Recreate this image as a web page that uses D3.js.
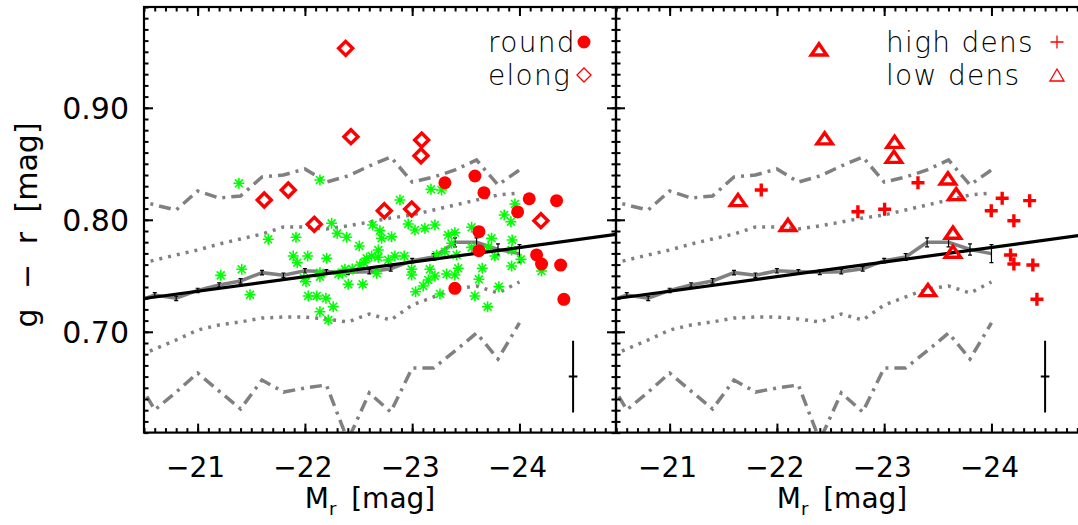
<!DOCTYPE html>
<html>
<head>
<meta charset="utf-8">
<script src="https://cdn.jsdelivr.net/npm/d3@7"></script>
<style>
  body { margin: 0; background: #fff; }
  svg { display: block; }
  text { font-family: "DejaVu Sans", sans-serif; fill: #000; }
</style>
</head>
<body>
<div id="chart"></div>
<script>
// bins of the median / percentile curves (Mr)
var binX = [-20.4, -20.6, -20.8, -21.0, -21.2, -21.4, -21.6, -21.8, -22.0, -22.2,
            -22.4, -22.6, -22.8, -23.0, -23.2, -23.4, -23.6, -23.8, -24.0]
var medY = [0.7257, 0.7329, 0.7299, 0.7369, 0.7418, 0.7454, 0.7528, 0.7505, 0.7545, 0.7536,
            0.7531, 0.7537, 0.7562, 0.7635, 0.7668, 0.7799, 0.7799, 0.7735, 0.7698]
var medErr = [0.002, 0.002, 0.002, 0.002, 0.002, 0.002, 0.002, 0.002, 0.002, 0.002,
              0.002, 0.002, 0.002, 0.002, 0.003, 0.004, 0.004, 0.005, 0.008]
var dotHi = [0.7587, 0.7641, 0.7686, 0.7730, 0.7784, 0.7829, 0.7873, 0.7936, 0.7936, 0.7918,
             0.7945, 0.7980, 0.8016, 0.8043, 0.8088, 0.8132, 0.8177, 0.8221, 0.8239]
var dotLo = [0.6766, 0.6846, 0.6927, 0.7016, 0.7061, 0.7088, 0.7123, 0.7132, 0.7132, 0.7114,
             0.7088, 0.7159, 0.7105, 0.7239, 0.7311, 0.7382, 0.7409, 0.7346, 0.7445]
var dashHi = [0.8195, 0.8132, 0.8088, 0.8257, 0.8195, 0.8213, 0.8382, 0.8400, 0.8454, 0.8337,
              0.8391, 0.8480, 0.8561, 0.8337, 0.8382, 0.8445, 0.8534, 0.8311, 0.8445]
var dashLo = [0.6632, 0.6302, 0.6462, 0.6632, 0.6471, 0.6311, 0.6570, 0.6462, 0.6498, 0.6525,
              0.6030, 0.6454, 0.6284, 0.6677, 0.6677, 0.6829, 0.6989, 0.6757, 0.7079]

// linear fit
var fitX = [-20.5, -24.9]
var fitY = [0.7297, 0.7870]

// typical error bar
var errPoint = [-24.5, 0.660]
var errSize = [0.04, 0.032]

// left panel samples
var roundPts = [[-23.305, 0.8331], [-23.585, 0.8391], [-23.669, 0.8242], [-24.091, 0.8188],
  [-24.346, 0.8171], [-23.983, 0.8070], [-23.622, 0.7894], [-23.622, 0.7724], [-24.160, 0.7686],
  [-24.206, 0.7605], [-24.384, 0.7596], [-23.398, 0.7388], [-24.414, 0.7290]]
var elongPts = [[-22.380, 0.9531], [-22.429, 0.8742], [-23.088, 0.8712], [-23.082, 0.8572],
  [-21.845, 0.8266], [-21.621, 0.8177], [-22.740, 0.8081], [-22.995, 0.8096], [-22.087, 0.7960],
  [-24.200, 0.7992]]
var greenPts = [[-21.385, 0.8326], [-22.140, 0.8355], [-22.249, 0.7969], [-22.301, 0.7879],
  [-22.389, 0.7844], [-21.658, 0.7826], [-21.917, 0.7844], [-22.507, 0.7766], [-22.631, 0.7954],
  [-21.891, 0.7677], [-21.929, 0.7617], [-22.026, 0.7677], [-22.203, 0.7656], [-21.411, 0.7558],
  [-21.215, 0.7504], [-21.488, 0.7331], [-21.991, 0.7478], [-22.010, 0.7447], [-22.140, 0.7528],
  [-22.140, 0.7492], [-22.311, 0.7516], [-22.373, 0.7558], [-22.352, 0.7522], [-22.404, 0.7424],
  [-22.538, 0.7424], [-22.031, 0.7320], [-22.110, 0.7320], [-22.196, 0.7299], [-22.264, 0.7224],
  [-22.140, 0.7179], [-22.218, 0.7105], [-22.513, 0.7596], [-22.576, 0.7656], [-22.622, 0.7677],
  [-22.669, 0.7522], [-22.684, 0.7730], [-22.550, 0.7617], [-22.441, 0.7561],
  [-23.175, 0.8272], [-23.274, 0.8266], [-22.886, 0.8177], [-23.958, 0.8141], [-23.858, 0.8043],
  [-23.920, 0.7983], [-22.963, 0.7963], [-23.026, 0.7909], [-23.119, 0.7924], [-23.212, 0.7954],
  [-22.699, 0.7903], [-22.715, 0.7835], [-22.808, 0.7849], [-23.336, 0.7864], [-23.398, 0.7885],
  [-23.554, 0.7933], [-23.368, 0.7790], [-23.740, 0.7835], [-23.932, 0.7820], [-22.684, 0.7665],
  [-22.777, 0.7641], [-22.839, 0.7677], [-22.926, 0.7677], [-23.228, 0.7686], [-23.305, 0.7715],
  [-23.414, 0.7686], [-23.554, 0.7754], [-23.709, 0.7754], [-23.771, 0.7677], [-23.927, 0.7730],
  [-24.014, 0.7647], [-23.927, 0.7588], [-22.995, 0.7558], [-22.995, 0.7507], [-23.165, 0.7558],
  [-23.212, 0.7498], [-23.321, 0.7516], [-23.398, 0.7507], [-23.429, 0.7567], [-23.653, 0.7567],
  [-23.150, 0.7463], [-23.622, 0.7469], [-23.103, 0.7409], [-23.032, 0.7358], [-23.259, 0.7338],
  [-23.585, 0.7320], [-23.808, 0.7403], [-23.703, 0.7224], [-24.206, 0.7543]]

// right panel samples
var highPts = [[-21.854, 0.8266], [-23.315, 0.8331], [-24.100, 0.8192], [-24.356, 0.8171],
  [-22.755, 0.8072], [-23.004, 0.8094], [-23.998, 0.8081], [-24.209, 0.7992], [-24.178, 0.7686],
  [-24.209, 0.7605], [-24.386, 0.7596], [-24.424, 0.7290]]
var lowPts = [[-22.392, 0.9522], [-22.445, 0.8728], [-23.097, 0.8697], [-23.091, 0.8563],
  [-23.594, 0.8370], [-23.671, 0.8230], [-21.637, 0.8177], [-22.103, 0.7954], [-23.641, 0.7885],
  [-23.641, 0.7715], [-23.408, 0.7373]]

var xMajor = [-21, -22, -23, -24]
var yMajor = [0.70, 0.80, 0.90]
var yLabels = ["0.70", "0.80", "0.90"]

var width = 1078, height = 525
var plotTop = 7, plotBottom = 432.6
var panels = [
  { left: 144, right: 616, legend: [["round", "circle"], ["elong", "diamond"]] },
  { left: 616, right: 1088, legend: [["high dens", "plus"], ["low dens", "triangle"]] }
]

var svg = d3.select("#chart").append("svg")
  .attr("width", width).attr("height", height)

var y = d3.scaleLinear().domain([0.61, 0.99]).range([plotBottom, plotTop])

var xMinor = d3.range(-20.5, -24.95, -0.1).map(function(d) { return +d.toFixed(1) })
var yMinor = d3.range(0.61, 0.991, 0.01).map(function(d) { return +d.toFixed(2) })

var red = "#ff0000", gray = "#808080", green = "#00ff00"

function asterisk(s) {
  var d = s * 0.72
  return "M" + (-s) + ",0L" + s + ",0M0," + (-s) + "L0," + s +
         "M" + (-d) + "," + (-d) + "L" + d + "," + d + "M" + (-d) + "," + d + "L" + d + "," + (-d)
}
function diamond(s) { return "M0," + (-s) + "L" + s + ",0L0," + s + "L" + (-s) + ",0Z" }
function triangle(w, h) { return "M0," + (-h) + "L" + w + "," + h + "L" + (-w) + "," + h + "Z" }
function plus(s) { return "M" + (-s) + ",0L" + s + ",0M0," + (-s) + "L0," + s }

panels.forEach(function(p, i) {
  var x = d3.scaleLinear().domain([-20.5, -24.9]).range([p.left, p.right])
  var g = svg.append("g")

  var clipId = "clip" + i
  svg.append("clipPath").attr("id", clipId).append("rect")
    .attr("x", p.left).attr("y", plotTop).attr("width", p.right - p.left).attr("height", plotBottom - plotTop)

  var plot = g.append("g").attr("clip-path", "url(#" + clipId + ")")

  var line = d3.line().x(function(d) { return x(d[0]) }).y(function(d) { return y(d[1]) })
  function curve(vals) { return binX.map(function(b, k) { return [b, vals[k]] }) }

  // percentile curves
  plot.append("path").attr("d", line(curve(dashHi)))
    .attr("fill", "none").attr("stroke", gray).attr("stroke-width", 3.5).attr("stroke-dasharray", "12,6,3,6")
  plot.append("path").attr("d", line(curve(dashLo)))
    .attr("fill", "none").attr("stroke", gray).attr("stroke-width", 3.5).attr("stroke-dasharray", "12,6,3,6")
  plot.append("path").attr("d", line(curve(dotHi)))
    .attr("fill", "none").attr("stroke", gray).attr("stroke-width", 3.5).attr("stroke-dasharray", "3,6")
  plot.append("path").attr("d", line(curve(dotLo)))
    .attr("fill", "none").attr("stroke", gray).attr("stroke-width", 3.5).attr("stroke-dasharray", "3,6")

  // median with error bars
  plot.append("path").attr("d", line(curve(medY)))
    .attr("fill", "none").attr("stroke", gray).attr("stroke-width", 3.5)
  var eb = plot.selectAll(".eb").data(binX).enter().append("g")
  eb.append("line")
    .attr("x1", function(d) { return x(d) }).attr("x2", function(d) { return x(d) })
    .attr("y1", function(d, k) { return y(medY[k] - medErr[k]) })
    .attr("y2", function(d, k) { return y(medY[k] + medErr[k]) })
    .attr("stroke", "#000").attr("stroke-width", 1.2)
  ;[-1, 1].forEach(function(sgn) {
    eb.append("line")
      .attr("x1", function(d) { return x(d) - 2 }).attr("x2", function(d) { return x(d) + 2 })
      .attr("y1", function(d, k) { return y(medY[k] + sgn * medErr[k]) })
      .attr("y2", function(d, k) { return y(medY[k] + sgn * medErr[k]) })
      .attr("stroke", "#000").attr("stroke-width", 1.2)
  })

  if (i === 0) {
    plot.selectAll(".ast").data(greenPts).enter().append("path")
      .attr("transform", function(d) { return "translate(" + x(d[0]) + "," + y(d[1]) + ")" })
      .attr("d", asterisk(5.5)).attr("fill", "none").attr("stroke", green).attr("stroke-width", 1.6)
  }

  // fit line
  plot.append("line")
    .attr("x1", x(fitX[0])).attr("y1", y(fitY[0]))
    .attr("x2", x(fitX[1])).attr("y2", y(fitY[1]))
    .attr("stroke", "#000").attr("stroke-width", 3.2)

  if (i === 0) {
    plot.selectAll(".dia").data(elongPts).enter().append("path")
      .attr("transform", function(d) { return "translate(" + x(d[0]) + "," + y(d[1]) + ")" })
      .attr("d", diamond(7)).attr("fill", "none").attr("stroke", red).attr("stroke-width", 3.4)
    plot.selectAll(".dot").data(roundPts).enter().append("circle")
      .attr("cx", function(d) { return x(d[0]) }).attr("cy", function(d) { return y(d[1]) })
      .attr("r", 6.5).attr("fill", red)
  } else {
    plot.selectAll(".tri").data(lowPts).enter().append("path")
      .attr("transform", function(d) { return "translate(" + x(d[0]) + "," + y(d[1]) + ")" })
      .attr("d", triangle(7.7, 5.6)).attr("fill", "none").attr("stroke", red)
      .attr("stroke-width", 3.4).attr("stroke-linejoin", "miter")
    plot.selectAll(".pls").data(highPts).enter().append("path")
      .attr("transform", function(d) { return "translate(" + x(d[0]) + "," + y(d[1]) + ")" })
      .attr("d", plus(6.5)).attr("fill", "none").attr("stroke", red).attr("stroke-width", 3.4)
  }

  // typical error
  plot.append("line")
    .attr("x1", x(errPoint[0])).attr("x2", x(errPoint[0]))
    .attr("y1", y(errPoint[1] - errSize[1])).attr("y2", y(errPoint[1] + errSize[1]))
    .attr("stroke", "#000").attr("stroke-width", 2)
  plot.append("line")
    .attr("x1", x(errPoint[0] - errSize[0])).attr("x2", x(errPoint[0] + errSize[0]))
    .attr("y1", y(errPoint[1])).attr("y2", y(errPoint[1]))
    .attr("stroke", "#000").attr("stroke-width", 2)

  // axes, ticks inward on all four sides
  function xAxis(gen, ypos, vals, len) {
    g.append("g").attr("transform", "translate(0," + ypos + ")")
      .call(gen(x).tickValues(vals).tickSize(len).tickFormat(""))
      .call(function(a) { a.select(".domain").remove() })
      .selectAll("line").attr("stroke", "#000").attr("stroke-width", 2)
  }
  function yAxis(gen, xpos, vals, len) {
    g.append("g").attr("transform", "translate(" + xpos + ",0)")
      .call(gen(y).tickValues(vals).tickSize(len).tickFormat(""))
      .call(function(a) { a.select(".domain").remove() })
      .selectAll("line").attr("stroke", "#000").attr("stroke-width", 2)
  }
  xAxis(d3.axisBottom, plotBottom, xMinor, -4.5)
  xAxis(d3.axisBottom, plotBottom, xMajor, -9)
  xAxis(d3.axisTop, plotTop, xMinor, -4.5)
  xAxis(d3.axisTop, plotTop, xMajor, -9)
  yAxis(d3.axisLeft, p.left, yMinor, -4.5)
  yAxis(d3.axisLeft, p.left, yMajor, -9)
  yAxis(d3.axisRight, p.right, yMinor, -4.5)
  yAxis(d3.axisRight, p.right, yMajor, -9)

  g.append("rect")
    .attr("x", p.left).attr("y", plotTop).attr("width", p.right - p.left).attr("height", plotBottom - plotTop)
    .attr("fill", "none").attr("stroke", "#000").attr("stroke-width", 2.2)

  g.selectAll(".xl").data(xMajor).enter().append("text")
    .attr("x", function(d) { return x(d) - 2 }).attr("y", 477)
    .attr("text-anchor", "middle").style("font-size", "28px")
    .text(function(d) { return "\u2212" + Math.abs(d) })

  var xt = g.append("text").attr("x", (p.left + p.right) / 2 - 10).attr("y", 508)
    .attr("text-anchor", "middle").style("font-size", "28px").style("word-spacing", "6px")
  xt.append("tspan").text("M")
  xt.append("tspan").attr("dy", 7).style("font-size", "18px").text("r")
  xt.append("tspan").attr("dy", -7).text(" [mag]")

  // legend
  p.legend.forEach(function(item, k) {
    var ly = 52 + k * 33
    g.append("text").attr("x", i === 0 ? 488 : 886).attr("y", ly)
      .style("font-size", "28px").style("font-weight", 200).style("letter-spacing", "1.3px")
      .text(item[0])
    var sx = i === 0 ? 584 : 1057, sy = ly - 10
    var s = g.append("path").attr("transform", "translate(" + sx + "," + sy + ")")
      .attr("fill", "none").attr("stroke", red).attr("stroke-width", 1.3)
    if (item[1] === "circle") { s.attr("d", d3.symbol().type(d3.symbolCircle).size(Math.PI * 42)()).attr("fill", red).attr("stroke", "none") }
    if (item[1] === "diamond") s.attr("d", diamond(7))
    if (item[1] === "plus") s.attr("d", plus(6.5))
    if (item[1] === "triangle") s.attr("d", triangle(7, 6))
  })
})

svg.selectAll(".yl").data(yMajor).enter().append("text")
  .attr("x", 129).attr("y", function(d) { return y(d) })
  .attr("dy", "0.36em").attr("text-anchor", "end").style("font-size", "30px")
  .text(function(d, k) { return yLabels[k] })

svg.append("text").attr("transform", "translate(37,225) rotate(-90)")
  .attr("text-anchor", "middle").style("font-size", "30px").style("word-spacing", "10px")
  .text("g \u2212 r [mag]")
</script>
</body>
</html>
